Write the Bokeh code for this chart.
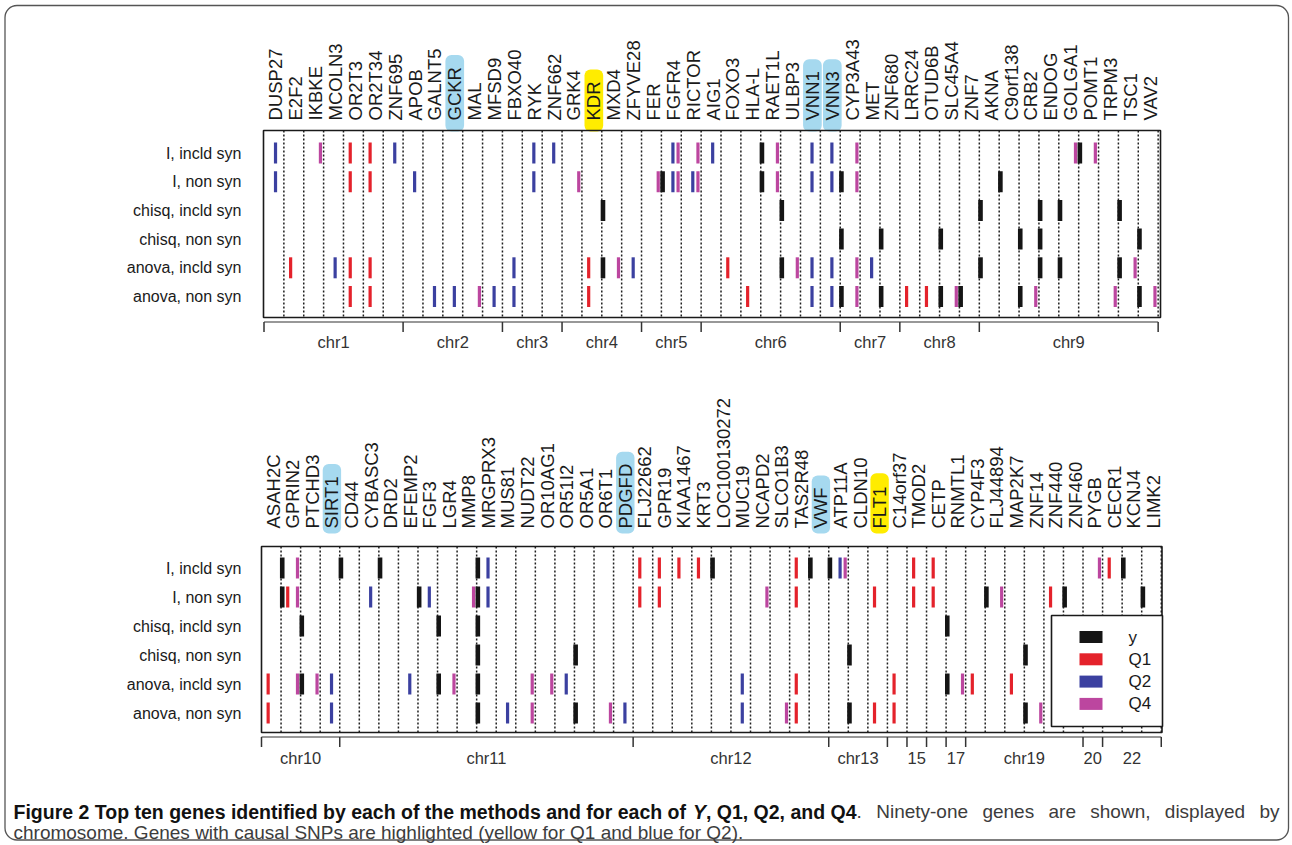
import math
from bokeh.plotting import figure
from bokeh.models import Range1d
from bokeh.core.properties import value
from bokeh.embed import file_html
from bokeh.resources import INLINE

# ---------------- data ----------------
methods = ["I, incld syn", "I, non syn", "chisq, incld syn",
           "chisq, non syn", "anova, incld syn", "anova, non syn"]
phenotypes = ["y", "Q1", "Q2", "Q4"]

top_genes = ["DUSP27", "E2F2", "IKBKE", "MCOLN3", "OR2T3", "OR2T34", "ZNF695",
             "APOB", "GALNT5", "GCKR", "MAL", "MFSD9",
             "FBXO40", "RYK", "ZNF662",
             "GRK4", "KDR", "MXD4", "ZFYVE28",
             "FER", "FGFR4", "RICTOR",
             "AIG1", "FOXO3", "HLA-L", "RAET1L", "ULBP3", "VNN1", "VNN3",
             "CYP3A43", "MET", "ZNF680",
             "LRRC24", "OTUD6B", "SLC45A4", "ZNF7",
             "AKNA", "C9orf138", "CRB2", "ENDOG", "GOLGA1", "POMT1", "TRPM3", "TSC1", "VAV2"]
top_chroms = ["chr1", "chr2", "chr3", "chr4", "chr5", "chr6", "chr7", "chr8", "chr9"]
top_chrom_sizes = [7, 5, 3, 4, 3, 7, 3, 4, 9]
top_causal_q1 = ["KDR"]
top_causal_q2 = ["GCKR", "VNN1", "VNN3"]

top_I_incld = {"y": ["HLA-L", "GOLGA1"],
               "Q1": ["OR2T3", "OR2T34"],
               "Q2": ["DUSP27", "ZNF695", "RYK", "ZNF662", "FGFR4", "AIG1", "VNN1", "VNN3"],
               "Q4": ["IKBKE", "FGFR4", "RICTOR", "RAET1L", "CYP3A43", "GOLGA1", "POMT1"]}
top_I_non = {"y": ["FER", "HLA-L", "VNN3", "AKNA"],
             "Q1": ["OR2T3", "OR2T34"],
             "Q2": ["DUSP27", "APOB", "RYK", "FGFR4", "RICTOR", "VNN1", "VNN3"],
             "Q4": ["GRK4", "FER", "FGFR4", "RICTOR", "RAET1L", "CYP3A43"]}
top_chisq_incld = {"y": ["KDR", "RAET1L", "ZNF7", "CRB2", "ENDOG", "TRPM3"],
                   "Q1": [], "Q2": [], "Q4": []}
top_chisq_non = {"y": ["VNN3", "MET", "OTUD6B", "C9orf138", "CRB2", "TSC1"],
                 "Q1": [], "Q2": [], "Q4": []}
top_anova_incld = {"y": ["KDR", "RAET1L", "ZNF7", "CRB2", "ENDOG", "TRPM3"],
                   "Q1": ["E2F2", "OR2T3", "OR2T34", "KDR", "FOXO3"],
                   "Q2": ["MCOLN3", "FBXO40", "ZFYVE28", "VNN1", "VNN3", "MET"],
                   "Q4": ["MXD4", "ULBP3", "CYP3A43", "TSC1"]}
top_anova_non = {"y": ["VNN3", "MET", "OTUD6B", "SLC45A4", "C9orf138", "TSC1"],
                 "Q1": ["OR2T3", "OR2T34", "KDR", "HLA-L", "LRRC24", "OTUD6B"],
                 "Q2": ["GALNT5", "GCKR", "MFSD9", "FBXO40", "VNN1", "VNN3"],
                 "Q4": ["MAL", "CYP3A43", "SLC45A4", "CRB2", "TRPM3", "VAV2"]}

bottom_genes = ["ASAH2C", "GPRIN2", "PTCHD3", "SIRT1",
                "CD44", "CYBASC3", "DRD2", "EFEMP2", "FGF3", "LGR4", "MMP8", "MRGPRX3",
                "MUS81", "NUDT22", "OR10AG1", "OR51I2", "OR5A1", "OR6T1", "PDGFD",
                "FLJ22662", "GPR19", "KIAA1467", "KRT3", "LOC100130272", "MUC19",
                "NCAPD2", "SLCO1B3", "TAS2R48", "VWF",
                "ATP11A", "CLDN10", "FLT1",
                "C14orf37", "TMOD2", "CETP", "RNMTL1",
                "CYP4F3", "FLJ44894", "MAP2K7", "ZNF14", "ZNF440", "ZNF460",
                "PYGB", "CECR1", "KCNJ4", "LIMK2"]
bottom_chroms = ["chr10", "chr11", "chr12", "chr13", "", "15", "", "17", "chr19", "20", "22"]
bottom_chrom_sizes = [4, 15, 10, 3, 1, 1, 1, 1, 6, 1, 3]
bottom_causal_q1 = ["FLT1"]
bottom_causal_q2 = ["SIRT1", "PDGFD", "VWF"]

bottom_I_incld = {"y": ["ASAH2C", "SIRT1", "CYBASC3", "MMP8", "KRT3", "TAS2R48", "VWF", "CECR1"],
                  "Q1": ["FLJ22662", "GPR19", "KIAA1467", "KRT3", "TAS2R48", "TMOD2", "CETP", "CECR1"],
                  "Q2": ["MRGPRX3", "ATP11A"],
                  "Q4": ["GPRIN2", "ATP11A", "PYGB"]}
bottom_I_non = {"y": ["ASAH2C", "EFEMP2", "MMP8", "CYP4F3", "ZNF440", "KCNJ4"],
                "Q1": ["GPRIN2", "FLJ22662", "GPR19", "TAS2R48", "FLT1", "TMOD2", "CETP", "ZNF440"],
                "Q2": ["CYBASC3", "FGF3", "MRGPRX3"],
                "Q4": ["GPRIN2", "MMP8", "NCAPD2", "FLJ44894"]}
bottom_chisq_incld = {"y": ["GPRIN2", "FGF3", "MMP8", "CETP"],
                      "Q1": [], "Q2": [], "Q4": []}
bottom_chisq_non = {"y": ["MMP8", "OR51I2", "ATP11A", "MAP2K7"],
                    "Q1": [], "Q2": [], "Q4": []}
bottom_anova_incld = {"y": ["GPRIN2", "FGF3", "MMP8", "CETP"],
                      "Q1": ["ASAH2C", "TAS2R48", "C14orf37", "CYP4F3", "MAP2K7"],
                      "Q2": ["SIRT1", "EFEMP2", "OR51I2", "MUC19"],
                      "Q4": ["GPRIN2", "PTCHD3", "LGR4", "NUDT22", "OR10AG1", "RNMTL1"]}
bottom_anova_non = {"y": ["MMP8", "OR51I2", "ATP11A", "MAP2K7"],
                    "Q1": ["ASAH2C", "TAS2R48", "FLT1", "C14orf37"],
                    "Q2": ["SIRT1", "MUS81", "PDGFD", "MUC19"],
                    "Q4": ["NUDT22", "OR6T1", "SLCO1B3", "ZNF14"]}

caption_pre = "Figure 2 Top ten genes identified by each of the methods and for each of "
caption_italic = "Y"
caption_post = ", Q1, Q2, and Q4"
caption_rest = ". Ninety-one genes are shown, displayed by"
caption_line2 = "chromosome. Genes with causal SNPs are highlighted (yellow for Q1 and blue for Q2)."

# ---------------- style / layout ----------------
PHENO_COLOR = {"y": "#151515", "Q1": "#e4222b", "Q2": "#3b40a0", "Q4": "#bc469f"}
PHENO_OFFSET = {"y": 0.06, "Q1": -0.66, "Q2": -0.42, "Q4": -0.16}
PHENO_WIDTH = {"y": 4.6, "Q1": 3.2, "Q2": 3.2, "Q4": 3.2}
HL_Q1 = "#ffec00"
HL_Q2 = "#a6d9ef"
FONT = "Liberation Sans"
GENE_SIZE = 18.5
LABEL_SHIFT = 0.1

# the page is drawn edge to edge (file_html sets a zero body margin)
X_MIN, X_MAX, Y_MIN, Y_MAX = 0, 1292, 0, 845

TOP = dict(x0=263.5, slot=19.87, frame_left=263, frame_right=1160, row0=152.5, drow=28.7,
           frame_top=130, frame_bottom=317, label_base=120, box_bottom=131,
           axis_y=321.5, chr_y=341)
BOTTOM = dict(x0=261, slot=19.56, frame_left=261, frame_right=1161.5, row0=567.5, drow=29.0,
              frame_top=546, frame_bottom=732, label_base=528, box_bottom=533,
              axis_y=736.5, chr_y=757)

# Arial-compatible advance widths (per 1000 em) used to size highlight boxes and caption spacing
REG_W = {" ": 278, ".": 278, ",": 278, "-": 333, "(": 333, ")": 333,
         "a": 556, "b": 556, "c": 500, "d": 556, "e": 556, "f": 278, "g": 556, "h": 556,
         "i": 222, "j": 222, "k": 500, "l": 222, "m": 833, "n": 556, "o": 556, "p": 556,
         "q": 556, "r": 333, "s": 500, "t": 278, "u": 556, "v": 500, "w": 722, "x": 500,
         "y": 500, "z": 500,
         "A": 667, "B": 667, "C": 722, "D": 722, "E": 667, "F": 611, "G": 778, "H": 722,
         "I": 278, "J": 500, "K": 667, "L": 556, "M": 833, "N": 722, "O": 778, "P": 667,
         "Q": 778, "R": 722, "S": 667, "T": 611, "U": 722, "V": 667, "W": 944, "X": 667,
         "Y": 667, "Z": 611}
BOLD_W = dict(REG_W)
BOLD_W.update({"a": 556, "b": 611, "c": 556, "d": 611, "e": 556, "f": 333, "g": 611, "h": 611,
               "i": 278, "j": 278, "k": 556, "l": 278, "m": 889, "n": 611, "o": 611, "p": 611,
               "q": 611, "r": 389, "s": 556, "t": 333, "u": 611, "v": 556, "w": 778, "x": 556,
               "y": 556, "z": 500, "L": 611})


def text_px(s, size, table=REG_W):
    return sum(table.get(c, 556) for c in s) / 1000.0 * size


p = figure(width=X_MAX - X_MIN, height=Y_MAX - Y_MIN,
           x_range=Range1d(X_MIN, X_MAX), y_range=Range1d(Y_MAX, Y_MIN),
           x_axis_type=None, y_axis_type=None,
           output_backend="svg", toolbar_location=None, min_border=0,
           outline_line_color=None, background_fill_color="white",
           border_fill_color="white")
p.grid.visible = False

# outer rounded border
p.quad(left=[4.5], right=[1288], top=[5], bottom=[839.5], fill_color=None,
       line_color="#555555", line_width=1.3, border_radius=12)


def draw_panel(name, genes, chroms, sizes, causal_q1, causal_q2, hits, L):
    xr, yr = "gx_" + name, "ry_" + name
    p.extra_x_ranges = {**p.extra_x_ranges,
                        xr: Range1d(start=(X_MIN - L["x0"]) / L["slot"], end=(X_MAX - L["x0"]) / L["slot"])}
    p.extra_y_ranges = {**p.extra_y_ranges,
                        yr: Range1d(start=(Y_MAX - L["row0"]) / L["drow"], end=(Y_MIN - L["row0"]) / L["drow"])}
    n = len(genes)
    idx = {g: i for i, g in enumerate(genes)}

    # highlight boxes for genes with causal SNPs
    hl = [(g, HL_Q1) for g in causal_q1] + [(g, HL_Q2) for g in causal_q2]
    p.quad(left=[idx[g] + 0.03 + LABEL_SHIFT for g, _ in hl],
           right=[idx[g] + 0.97 + LABEL_SHIFT for g, _ in hl],
           top=[L["label_base"] - text_px(g, GENE_SIZE) - 12 for g, _ in hl],
           bottom=[L["box_bottom"]] * len(hl),
           fill_color=[c for _, c in hl], line_color=None, border_radius=6,
           x_range_name=xr)

    # gene labels
    p.text(x=[i + 0.5 + LABEL_SHIFT for i in range(n)], y=[L["label_base"]] * n, text=genes,
           angle=math.pi / 2, text_align="left", text_baseline="middle",
           text_font=value(FONT), text_font_size=f"{GENE_SIZE}px", text_color="#1a1a1a",
           x_range_name=xr)

    # dotted gene separators
    xs = [i + 1 for i in range(n)]
    p.segment(x0=xs, y0=[L["frame_top"]] * n, x1=xs, y1=[L["frame_bottom"]] * n,
              line_dash="2 2", line_width=1.5, line_color="#1e1e1e", x_range_name=xr)

    # marks
    half = 10.5 / L["drow"]
    for ph in phenotypes:
        mx, my0, my1 = [], [], []
        for m, h in enumerate(hits):
            for g in h[ph]:
                x = idx[g] + 1 + PHENO_OFFSET[ph]
                mx.append(x)
                my0.append(m - half)
                my1.append(m + half)
        if mx:
            p.segment(x0=mx, y0=my0, x1=mx, y1=my1, line_color=PHENO_COLOR[ph],
                      line_width=PHENO_WIDTH[ph], line_cap="butt",
                      x_range_name=xr, y_range_name=yr)

    # frame
    fl = (L["frame_left"] - L["x0"]) / L["slot"]
    fr = (L["frame_right"] - L["x0"]) / L["slot"]
    p.quad(left=[fl], right=[fr], top=[L["frame_top"]], bottom=[L["frame_bottom"]],
           fill_color=None, line_color="#1a1a1a", line_width=1.6, x_range_name=xr)

    # row labels
    p.text(x=[241] * len(methods), y=list(range(len(methods))), text=methods,
           text_align="right", text_baseline="middle", text_font=value(FONT),
           text_font_size="16px", text_color="#1a1a1a", y_range_name=yr)

    # chromosome axis
    bounds = [0]
    for s in sizes:
        bounds.append(bounds[-1] + s)
    p.segment(x0=[bounds[0]], y0=[L["axis_y"]], x1=[bounds[-1]], y1=[L["axis_y"]],
              line_color="#333333", line_width=1.2, x_range_name=xr)
    p.segment(x0=bounds, y0=[L["axis_y"]] * len(bounds), x1=bounds,
              y1=[L["axis_y"] + 10] * len(bounds), line_color="#333333", line_width=1.5,
              x_range_name=xr)
    mids = [(bounds[k] + bounds[k + 1]) / 2 for k in range(len(sizes))]
    p.text(x=mids, y=[L["chr_y"]] * len(mids), text=chroms, text_align="center",
           text_baseline="middle", text_font=value(FONT), text_font_size="16.5px",
           text_color="#333333", x_range_name=xr)


draw_panel("top", top_genes, top_chroms, top_chrom_sizes, top_causal_q1, top_causal_q2,
           [top_I_incld, top_I_non, top_chisq_incld, top_chisq_non, top_anova_incld, top_anova_non],
           TOP)
draw_panel("bottom", bottom_genes, bottom_chroms, bottom_chrom_sizes, bottom_causal_q1,
           bottom_causal_q2,
           [bottom_I_incld, bottom_I_non, bottom_chisq_incld, bottom_chisq_non,
            bottom_anova_incld, bottom_anova_non],
           BOTTOM)

# legend (inside the bottom panel, lower right)
LEG = dict(left=1051, right=1162, top=615, bottom=726, sw_left=1079, sw_right=1102,
           first=636.5, step=22.3, text_x=1128)
p.quad(left=[LEG["left"]], right=[LEG["right"]], top=[LEG["top"]], bottom=[LEG["bottom"]],
       fill_color="white", line_color="#1a1a1a", line_width=1.6)
ly = [LEG["first"] + k * LEG["step"] for k in range(len(phenotypes))]
p.quad(left=[LEG["sw_left"]] * 4, right=[LEG["sw_right"]] * 4,
       top=[y - 6 for y in ly], bottom=[y + 6 for y in ly],
       fill_color=[PHENO_COLOR[ph] for ph in phenotypes], line_color=None)
p.text(x=[LEG["text_x"]] * 4, y=ly, text=phenotypes, text_align="left",
       text_baseline="middle", text_font=value(FONT), text_font_size="17px",
       text_color="#1a1a1a")

# caption: line 1 justified between the margins, line 2 left aligned
CAP = dict(left=13, right=1279, base1=811, base2=832, bold_size=19.5, reg_size=19)
b1 = text_px(caption_pre, CAP["bold_size"], BOLD_W)
b2 = text_px(caption_italic, CAP["bold_size"], BOLD_W)
b3 = text_px(caption_post, CAP["bold_size"], BOLD_W)
p.text(x=[CAP["left"]], y=[CAP["base1"]], text=[caption_pre], text_align="left",
       text_baseline="alphabetic", text_font=value(FONT), text_font_style="bold",
       text_font_size=f"{CAP['bold_size']}px", text_color="#111111")
p.text(x=[CAP["left"] + b1], y=[CAP["base1"]], text=[caption_italic], text_align="left",
       text_baseline="alphabetic", text_font=value(FONT), text_font_style="bold italic",
       text_font_size=f"{CAP['bold_size']}px", text_color="#111111")
p.text(x=[CAP["left"] + b1 + b2], y=[CAP["base1"]], text=[caption_post], text_align="left",
       text_baseline="alphabetic", text_font=value(FONT), text_font_style="bold",
       text_font_size=f"{CAP['bold_size']}px", text_color="#111111")
words = caption_rest.split(" ")
start = CAP["left"] + b1 + b2 + b3
ww = [text_px(w, CAP["reg_size"]) for w in words]
gap = (CAP["right"] - start - sum(ww)) / (len(words) - 1)
wx = []
cur = start
for w_ in ww:
    wx.append(cur)
    cur += w_ + gap
p.text(x=wx, y=[CAP["base1"]] * len(words), text=words, text_align="left",
       text_baseline="alphabetic", text_font=value(FONT),
       text_font_size=f"{CAP['reg_size']}px", text_color="#3c3c3c")
p.text(x=[CAP["left"]], y=[CAP["base2"]], text=[caption_line2], text_align="left",
       text_baseline="alphabetic", text_font=value(FONT),
       text_font_size=f"{CAP['reg_size']}px", text_color="#3c3c3c")

open("out.html", "w").write(file_html(p, INLINE))
